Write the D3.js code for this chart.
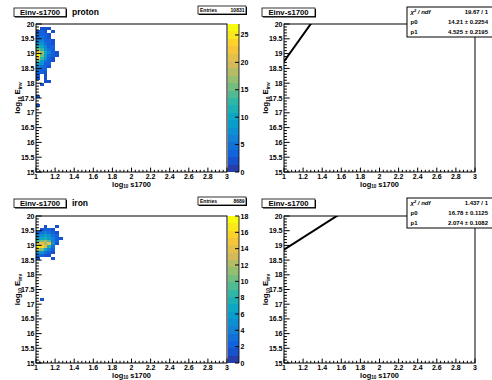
<!DOCTYPE html>
<html><head><meta charset="utf-8">
<script src="https://cdn.jsdelivr.net/npm/d3@7"></script>
<style>
body{margin:0;background:#fff}
svg{display:block}
text{font-family:"Liberation Sans",Arial,Helvetica,sans-serif;font-weight:bold;fill:#000}
</style>
</head><body>
<svg id="c" width="492" height="380"></svg>
<script>
// ---------------- data ----------------
const xDomain = [1, 3];
const yDomain = [15, 20];
const xTickValues = [1, 1.2, 1.4, 1.6, 1.8, 2, 2.2, 2.4, 2.6, 2.8, 3];
const xTickLabels = ["1", "1.2", "1.4", "1.6", "1.8", "2", "2.2", "2.4", "2.6", "2.8", "3"];
const yTickValues = [15, 15.5, 16, 16.5, 17, 17.5, 18, 18.5, 19, 19.5, 20];
const yTickLabels = ["15", "15.5", "16", "16.5", "17", "17.5", "18", "18.5", "19", "19.5", "20"];
const xBinStart = 1.0, xBinWidth = 0.04, yBinWidth = 0.1;

const histTitles = ["proton", "iron"];
const histEntries = ["10831", "8689"];
const zMax = [27, 18];
const protonZTicks = [0, 5, 10, 15, 20, 25];
const ironZTicks = [0, 2, 4, 6, 8, 10, 12, 14, 16, 18];

// y lower edge of each row, counts per x bin starting at x = 1.00
const protonRowY = [19.8, 19.7, 19.6, 19.5, 19.4, 19.3, 19.2, 19.1, 19.0, 18.9, 18.8, 18.7, 18.6, 18.5, 18.4, 18.3, 18.2, 18.1, 18.0, 17.9, 17.5, 17.2];
const protonRowCounts = [
  [0, 2, 2, 2],
  [2, 3, 2, 0, 2],
  [3, 4, 3, 2],
  [4, 5, 3, 2],
  [6, 6, 4, 3, 2],
  [8, 7, 5, 4, 2],
  [11, 10, 6, 4, 3],
  [16, 13, 8, 5, 3],
  [22, 17, 10, 6, 4, 2],
  [27, 16, 9, 5, 3, 2],
  [21, 13, 7, 4, 2],
  [14, 9, 5, 3, 2],
  [9, 7, 4, 3],
  [7, 5, 3, 2],
  [5, 4, 3],
  [4, 3, 2],
  [3, 0, 2],
  [2, 0, 2],
  [0, 0, 2, 2],
  [0, 2],
  [2],
  [2]
];
const ironRowY = [19.6, 19.5, 19.4, 19.3, 19.2, 19.1, 19.0, 18.9, 18.8, 18.7, 18.6, 18.5, 17.1];
const ironRowCounts = [
  [0, 0, 1, 0, 0, 1],
  [0, 1, 2, 2, 1],
  [2, 3, 4, 3, 2, 1],
  [4, 5, 6, 5, 3, 2],
  [6, 7, 8, 6, 4, 2, 1],
  [9, 10, 11, 9, 4, 2],
  [13, 14, 12, 14, 5, 1],
  [18, 16, 13, 8, 3],
  [12, 10, 7, 4, 2],
  [6, 5, 3, 2, 1],
  [3, 2, 1, 1],
  [1, 0, 0, 0, 1],
  [0, 1]
];

// linear fits  E = p0 + p1 * x
const fitP0 = [14.21, 16.78];
const fitP0Err = ["0.2254", "0.1125"];
const fitP1 = [4.525, 2.074];
const fitP1Err = ["0.2195", "0.1082"];
const fitChi2 = ["19.67 / 1", "1.437 / 1"];
const fitP0Label = ["14.21", "16.78"];
const fitP1Label = ["4.525", "2.074"];

// kBird palette stops
const birdR = [0.2082, 0.0592, 0.0780, 0.0232, 0.1802, 0.5301, 0.8186, 0.9956, 0.9764];
const birdG = [0.1664, 0.3599, 0.5041, 0.6419, 0.7178, 0.7492, 0.7328, 0.7862, 0.9832];
const birdB = [0.5293, 0.8684, 0.8385, 0.7914, 0.6425, 0.4662, 0.3499, 0.1968, 0.0539];

// ---------------- drawing ----------------
const svg = d3.select("#c");
const birdColors = birdR.map((r, i) => d3.rgb(r * 255, birdG[i] * 255, birdB[i] * 255).toString());
const birdInterp = d3.piecewise(d3.interpolateRgb, birdColors);
const nContours = 20, nColors = 255;
function bandColor(i) {
  const idx = Math.floor((i + 0.99) * nColors / nContours);
  return birdInterp(Math.min(1, idx / (nColors - 1)));
}

const rows = [{oy: 0, fy0: 24, fy1: 172}, {oy: 191, fy0: 216, fy1: 363}];
const cols = [{fx0: 36, fx1: 227}, {fx0: 284, fx1: 475}];
let clipId = 0;

function axes(g, xs, ys, fx0, fx1, fy0, fy1) {
  const xt = d3.range(0, 51).map(i => ({v: xDomain[0] + i * 0.04, major: i % 5 === 0}));
  g.selectAll(null).data(xt).enter().append("line")
    .attr("x1", d => xs(d.v)).attr("x2", d => xs(d.v))
    .attr("y1", fy1).attr("y2", d => fy1 - (d.major ? 4.4 : 2.2))
    .attr("stroke", "#000").attr("stroke-width", 1);
  const yt = d3.range(0, 51).map(i => ({v: yDomain[0] + i * 0.1, major: i % 5 === 0}));
  g.selectAll(null).data(yt).enter().append("line")
    .attr("y1", d => ys(d.v)).attr("y2", d => ys(d.v))
    .attr("x1", fx0).attr("x2", d => fx0 + (d.major ? 5.7 : 2.9))
    .attr("stroke", "#000").attr("stroke-width", 1);
  g.append("rect").attr("x", fx0).attr("y", fy0).attr("width", fx1 - fx0).attr("height", fy1 - fy0)
    .attr("fill", "none").attr("stroke", "#000").attr("stroke-width", 1);
  g.selectAll(null).data(xTickValues).enter().append("text")
    .attr("x", d => xs(d)).attr("y", fy1 + 7.4).attr("text-anchor", "middle")
    .attr("font-size", 7).text((d, i) => xTickLabels[i]);
  g.selectAll(null).data(yTickValues).enter().append("text")
    .attr("x", fx0 - 1.5).attr("y", d => ys(d) + 2.5).attr("text-anchor", "end")
    .attr("font-size", 7).text((d, i) => yTickLabels[i]);
  const xt2 = g.append("text").attr("x", (fx0 + fx1) / 2).attr("y", fy1 + 15)
    .attr("text-anchor", "middle").attr("font-size", 7.4);
  xt2.append("tspan").text("log");
  xt2.append("tspan").attr("font-size", 4.6).attr("dy", 1).text("10");
  xt2.append("tspan").attr("dy", -1).text(" s1700");
  const yt2 = g.append("text")
    .attr("transform", `translate(${fx0 - 16.5},${(fy0 + fy1) / 2}) rotate(-90)`)
    .attr("text-anchor", "middle").attr("font-size", 7.8);
  yt2.append("tspan").text("log");
  yt2.append("tspan").attr("font-size", 4.8).attr("dy", 2).text("10");
  yt2.append("tspan").attr("dy", -2).text(" E");
  yt2.append("tspan").attr("font-size", 4.8).attr("dy", 2).text("inv");
}

function titleBox(g, x, y, w, h, label) {
  g.append("rect").attr("x", x + 1).attr("y", y + 1).attr("width", w).attr("height", h).attr("fill", "#000");
  g.append("rect").attr("x", x).attr("y", y).attr("width", w).attr("height", h)
    .attr("fill", "#fff").attr("stroke", "#000").attr("stroke-width", 0.8);
  g.append("text").attr("x", x + w / 2).attr("y", y + h - 2).attr("text-anchor", "middle")
    .attr("font-size", 7.7).text(label);
}

[0, 1].forEach(r => {
  const row = rows[r];
  {
    const {fx0, fx1} = cols[0];
    const {fy0, fy1, oy} = row;
    const g = svg.append("g");
    const xs = d3.scaleLinear().domain(xDomain).range([fx0, fx1]);
    const ys = d3.scaleLinear().domain(yDomain).range([fy1, fy0]);
    const ry = r === 0 ? protonRowY : ironRowY;
    const rc = r === 0 ? protonRowCounts : ironRowCounts;
    const zm = zMax[r];
    const cells = [];
    ry.forEach((y0, k) => rc[k].forEach((c, ix) => {
      if (c > 0) cells.push({x0: xBinStart + ix * xBinWidth, y0: y0, c: c});
    }));
    const cid = "clip" + (clipId++);
    g.append("clipPath").attr("id", cid).append("rect")
      .attr("x", fx0).attr("y", fy0).attr("width", fx1 - fx0).attr("height", fy1 - fy0);
    g.append("g").attr("clip-path", `url(#${cid})`).selectAll("rect").data(cells).enter().append("rect")
      .attr("x", d => xs(d.x0)).attr("width", d => xs(d.x0 + xBinWidth) - xs(d.x0))
      .attr("y", d => ys(d.y0 + yBinWidth)).attr("height", d => ys(d.y0) - ys(d.y0 + yBinWidth))
      .attr("fill", d => bandColor(Math.min(nContours - 1, Math.floor(0.01 + d.c * nContours / zm))))
      .attr("shape-rendering", "crispEdges");
    axes(g, xs, ys, fx0, fx1, fy0, fy1);
    const zs = d3.scaleLinear().domain([0, zm]).range([fy1, fy0]);
    const px0 = fx1 + 0.5, px1 = 239;
    g.selectAll(null).data(d3.range(nContours)).enter().append("rect")
      .attr("x", px0).attr("width", px1 - px0)
      .attr("y", i => zs((i + 1) * zm / nContours)).attr("height", i => zs(i * zm / nContours) - zs((i + 1) * zm / nContours))
      .attr("fill", i => bandColor(i)).attr("shape-rendering", "crispEdges");
    g.append("line").attr("x1", px1).attr("x2", px1).attr("y1", fy0).attr("y2", fy1).attr("stroke", "#000").attr("stroke-width", 0.8);
    const zt = r === 0 ? protonZTicks : ironZTicks;
    g.selectAll(null).data(zt).enter().append("line")
      .attr("x1", px1).attr("x2", px1 - 4).attr("y1", d => zs(d)).attr("y2", d => zs(d))
      .attr("stroke", "#000").attr("stroke-width", 1);
    g.selectAll(null).data(zt).enter().append("text")
      .attr("x", px1 + 1.5).attr("y", d => zs(d) + 2.5).attr("font-size", 7).text(d => d);
    titleBox(g, 14, 8 + oy, 52, 8.5, "Einv-s1700");
    g.append("text").attr("x", 72).attr("y", 14.5 + oy).attr("font-size", 8.5).text(histTitles[r]);
    g.append("rect").attr("x", 199).attr("y", 7 + oy).attr("width", 48).attr("height", 8).attr("fill", "#000");
    g.append("rect").attr("x", 198).attr("y", 6 + oy).attr("width", 48).attr("height", 8)
      .attr("fill", "#fff").attr("stroke", "#000").attr("stroke-width", 0.8);
    g.append("text").attr("x", 200).attr("y", 12.3 + oy).attr("font-size", 5).text("Entries");
    g.append("text").attr("x", 244.5).attr("y", 12.3 + oy).attr("font-size", 5).attr("text-anchor", "end").text(histEntries[r]);
  }
  {
    const {fx0, fx1} = cols[1];
    const {fy0, fy1, oy} = row;
    const g = svg.append("g");
    const xs = d3.scaleLinear().domain(xDomain).range([fx0, fx1]);
    const ys = d3.scaleLinear().domain(yDomain).range([fy1, fy0]);
    const cid = "clip" + (clipId++);
    g.append("clipPath").attr("id", cid).append("rect")
      .attr("x", fx0).attr("y", fy0).attr("width", fx1 - fx0).attr("height", fy1 - fy0);
    const xsamp = [xDomain[0], xDomain[1]];
    const line = d3.line().x(d => xs(d)).y(d => ys(fitP0[r] + fitP1[r] * d));
    g.append("path").attr("clip-path", `url(#${cid})`).attr("d", line(xsamp))
      .attr("fill", "none").attr("stroke", "#000").attr("stroke-width", 2);
    axes(g, xs, ys, fx0, fx1, fy0, fy1);
    titleBox(g, 262, 8 + oy, 53, 8.5, "Einv-s1700");
    const sy = r === 0 ? 7 : 198;
    g.append("rect").attr("x", 407).attr("y", sy).attr("width", 90).attr("height", 30)
      .attr("fill", "#fff").attr("stroke", "#000").attr("stroke-width", 1);
    const rowsY = [sy + 6.5, sy + 17, sy + 26.5];
    const t0 = g.append("text").attr("x", 410.5).attr("y", rowsY[0]).attr("font-size", 6).attr("font-style", "italic");
    t0.append("tspan").text("χ");
    t0.append("tspan").attr("font-size", 4).attr("dy", -2).text("2");
    t0.append("tspan").attr("dy", 2).text(" / ndf");
    g.append("text").attr("x", 488).attr("y", rowsY[0]).attr("font-size", 6).attr("text-anchor", "end").text(fitChi2[r]);
    g.append("text").attr("x", 410.5).attr("y", rowsY[1]).attr("font-size", 6).text("p0");
    g.append("text").attr("x", 488).attr("y", rowsY[1]).attr("font-size", 6).attr("text-anchor", "end")
      .text(fitP0Label[r] + " ± " + fitP0Err[r]);
    g.append("text").attr("x", 410.5).attr("y", rowsY[2]).attr("font-size", 6).text("p1");
    g.append("text").attr("x", 488).attr("y", rowsY[2]).attr("font-size", 6).attr("text-anchor", "end")
      .text(fitP1Label[r] + " ± " + fitP1Err[r]);
  }
});
</script>
</body></html>
